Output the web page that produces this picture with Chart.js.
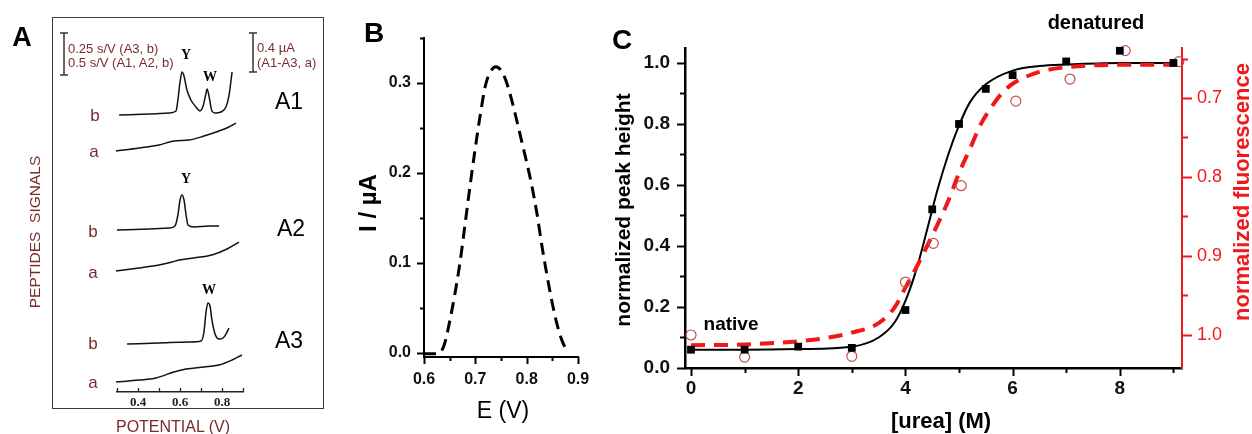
<!DOCTYPE html>
<html><head><meta charset="utf-8">
<script src="https://cdn.jsdelivr.net/npm/chart.js@4.4.0/dist/chart.umd.min.js"></script>
<style>
html,body{margin:0;padding:0;background:#fff;}
#wrap{position:relative;width:1252px;height:434px;overflow:hidden;font-family:"Liberation Sans",Arial,sans-serif;background:#fff;}
canvas{position:absolute;left:0;top:0;}
.t{position:absolute;white-space:nowrap;line-height:1;transform:translate(-50%,-50%);z-index:5;}
.rot{transform:translate(-50%,-50%) rotate(-90deg);}
.br{color:#7b2a2a;}
.b{font-weight:bold;}
.serif{font-family:"Liberation Serif","Times New Roman",serif;font-weight:bold;}
#boxA{position:absolute;left:52px;top:17px;width:270px;height:390px;border:1.5px solid #3a3a3a;}
svg{position:absolute;left:0;top:0;z-index:4;}
</style></head>
<body><div id="wrap">
<div id="boxA"></div>
<canvas id="cA" width="1252" height="434"></canvas>
<canvas id="cB" width="1252" height="434"></canvas>
<canvas id="cC" width="1252" height="434"></canvas>
<svg width="1252" height="434">
  <g stroke="#333" stroke-width="1.5" fill="none">
    <line x1="64" y1="33" x2="64" y2="75"/><line x1="60" y1="33" x2="68" y2="33"/><line x1="60" y1="75" x2="68" y2="75"/>
    <line x1="253" y1="33" x2="253" y2="72"/><line x1="249" y1="33" x2="257" y2="33"/><line x1="249" y1="72" x2="257" y2="72"/>
  </g>
</svg>
<!-- Panel A texts -->
<div class="t b" style="left:22px;top:37px;font-size:27px;">A</div>
<div class="t br" style="left:68px;top:48px;font-size:13px;transform:translate(0,-50%);">0.25 s/V (A3, b)</div>
<div class="t br" style="left:68px;top:62px;font-size:13px;transform:translate(0,-50%);">0.5 s/V (A1, A2, b)</div>
<div class="t br" style="left:257px;top:47px;font-size:13px;transform:translate(0,-50%);">0.4 µA</div>
<div class="t br" style="left:257px;top:62px;font-size:13px;transform:translate(0,-50%);">(A1-A3, a)</div>
<div class="t serif" style="left:186px;top:55px;font-size:14px;">Y</div>
<div class="t serif" style="left:210px;top:77px;font-size:14px;">W</div>
<div class="t serif" style="left:186px;top:179px;font-size:14px;">Y</div>
<div class="t serif" style="left:209px;top:290px;font-size:14px;">W</div>
<div class="t" style="left:289px;top:101px;font-size:23px;">A1</div>
<div class="t" style="left:291px;top:228px;font-size:23px;">A2</div>
<div class="t" style="left:289px;top:340px;font-size:23px;">A3</div>
<div class="t br" style="left:95px;top:115px;font-size:17px;">b</div>
<div class="t br" style="left:94px;top:151px;font-size:17px;">a</div>
<div class="t br" style="left:93px;top:231px;font-size:17px;">b</div>
<div class="t br" style="left:93px;top:272px;font-size:17px;">a</div>
<div class="t br" style="left:93px;top:343px;font-size:17px;">b</div>
<div class="t br" style="left:93px;top:382px;font-size:17px;">a</div>
<div class="t br rot" style="left:35px;top:232px;font-size:15.5px;">PEPTIDES&nbsp; SIGNALS</div>
<div class="t br" style="left:173px;top:427px;font-size:16px;">POTENTIAL (V)</div>
<!-- Panel B texts -->
<div class="t b" style="left:374px;top:33px;font-size:28px;">B</div>
<div class="t b rot" style="left:368px;top:203px;font-size:24px;">I / µA</div>
<div class="t" style="left:503px;top:410px;font-size:23px;">E (V)</div>
<!-- Panel C texts -->
<div class="t b" style="left:622px;top:40px;font-size:28px;">C</div>
<div class="t b rot" style="left:622px;top:210px;font-size:21px;">normalized peak height</div>
<div class="t b rot" style="left:1242px;top:192px;font-size:22px;color:#f01818;">normalized fluorescence</div>
<div class="t b" style="left:941px;top:421px;font-size:22px;">[urea] (M)</div>
<div class="t b" style="left:731px;top:323px;font-size:19px;">native</div>
<div class="t b" style="left:1096px;top:22px;font-size:20px;">denatured</div>
</div>
<script>
// ---------- DATA ----------
// Panel A: stacked voltammetric traces (vertical offset in µA-equivalent units)
const A1b_E = [0.31,0.452,0.548,0.581,0.590,0.600,0.610,0.619,0.633,0.652,0.676,0.695,0.710,0.724,0.729,0.738,0.752,0.767,0.795,0.819,0.833,0.848];
const A1b_I = [2.642,2.651,2.661,2.680,2.785,2.956,3.052,3.014,2.880,2.785,2.718,2.680,2.727,2.851,2.890,2.823,2.680,2.661,2.670,2.718,2.823,3.052];
const A1a_E = [0.295,0.405,0.5,0.571,0.643,0.714,0.786,0.833,0.867];
const A1a_I = [2.298,2.327,2.356,2.394,2.403,2.441,2.489,2.527,2.565];
const A2b_E = [0.3,0.452,0.548,0.576,0.590,0.600,0.610,0.619,0.629,0.638,0.667,0.738,0.786];
const A2b_I = [1.545,1.554,1.564,1.583,1.688,1.831,1.879,1.831,1.688,1.593,1.574,1.583,1.583];
const A2a_E = [0.295,0.405,0.5,0.562,0.595,0.667,0.752,0.824,0.881];
const A2a_I = [1.154,1.183,1.211,1.240,1.259,1.278,1.307,1.364,1.430];
const A3b_E = [0.348,0.5,0.643,0.7,0.714,0.724,0.733,0.743,0.752,0.767,0.786,0.805,0.819,0.833];
const A3b_I = [0.458,0.467,0.477,0.486,0.572,0.763,0.849,0.820,0.687,0.553,0.505,0.515,0.553,0.610];
const A3a_E = [0.295,0.405,0.486,0.571,0.629,0.714,0.786,0.848,0.895];
const A3a_I = [0.095,0.114,0.134,0.191,0.219,0.238,0.257,0.305,0.353];
const A_xTickLabels = [0.4,0.6,0.8];
const A_xTickMarks = [0.3,0.4,0.5,0.6,0.7,0.8,0.9];

// Panel B
const B_E = [0.600,0.615,0.630,0.640,0.650,0.660,0.670,0.680,0.690,0.700,0.710,0.720,0.730,0.740,0.750,0.760,0.770,0.780,0.790,0.800,0.810,0.820,0.830,0.840,0.850,0.860,0.870,0.878];
const B_I = [-0.001,-0.001,0.0,0.010,0.035,0.065,0.100,0.143,0.187,0.228,0.266,0.298,0.313,0.318,0.314,0.302,0.283,0.260,0.236,0.212,0.186,0.155,0.118,0.085,0.055,0.030,0.012,0.003];
const B_xMajor = [0.6,0.7,0.8,0.9], B_xMinor = [0.65,0.75,0.85];
const B_yMajor = [0,0.1,0.2,0.3], B_yMinor = [0.05,0.15,0.25,0.35];

// Panel C
const C_urea = [0,1,2,3,4,4.5,5,5.5,6,7,8,9];
const C_peak = [0.06,0.06,0.07,0.066,0.19,0.52,0.80,0.915,0.96,1.005,1.04,1.0];
const C_fluUrea = [0,1,3,4,4.52,5.04,6.06,7.07,8.1,9.1];
const C_flu = [1.0,1.028,1.027,0.933,0.884,0.811,0.704,0.676,0.64,0.654];
const C_fitX = [0,1,2,3,3.5,3.8,4.0,4.2,4.4,4.6,4.8,5.0,5.2,5.5,6.0,6.5,7,8,9];
const C_fitY = [0.06,0.06,0.062,0.07,0.10,0.15,0.22,0.32,0.45,0.585,0.70,0.795,0.87,0.93,0.975,0.99,0.995,1.0,1.0];
const C_fluFitX = [0,1,2,2.5,3,3.5,3.8,4.0,4.2,4.4,4.6,4.8,5.0,5.2,5.4,5.6,5.8,6.0,6.5,7,8,9.1];
const C_fluFitY = [1.013,1.012,1.008,1.004,0.997,0.985,0.965,0.94,0.915,0.888,0.86,0.83,0.795,0.765,0.734,0.712,0.694,0.682,0.667,0.661,0.658,0.658];
const C_xMajor = [0,2,4,6,8], C_xMinor = [1,3,5,7,9];
const C_yMajor = [0,0.2,0.4,0.6,0.8,1.0], C_yMinor = [0.1,0.3,0.5,0.7,0.9];
const C_y2Major = [0.7,0.8,0.9,1.0], C_y2Minor = [0.65,0.75,0.85,0.95];

// ---------- HELPERS ----------
const SANS = '"Liberation Sans", Arial, sans-serif';
const pts = (xs, ys) => xs.map((x, i) => ({x, y: ys[i]}));
const fix = (size) => (s) => {
  if (s.isHorizontal()) s.height = size; else s.width = size;
  s.paddingLeft = s.paddingRight = s.paddingTop = s.paddingBottom = 0;
};
const setTicks = (vals) => (s) => { s.ticks = vals.map(v => ({value: v})); };
const noGrid = { display: false, drawTicks: false, drawOnChartArea: false };

const tickMarks = {
  id: 'tickMarks',
  afterDraw(chart, args, opts) {
    const ctx = chart.ctx, ca = chart.chartArea;
    (opts.list || []).forEach(t => {
      const s = chart.scales[t.axis];
      ctx.save();
      ctx.strokeStyle = t.color; ctx.lineWidth = t.width; ctx.lineCap = 'butt';
      t.values.forEach(v => {
        const p = Math.round(s.getPixelForValue(v)) + 0.5;
        ctx.beginPath();
        if (s.isHorizontal()) {
          const b = ca.bottom;
          ctx.moveTo(p, b); ctx.lineTo(p, b + t.dir * t.len);
        } else {
          const b = s.position === 'left' ? ca.left : ca.right;
          ctx.moveTo(b, p); ctx.lineTo(b + t.dir * t.len, p);
        }
        ctx.stroke();
      });
      ctx.restore();
    });
  }
};

Chart.defaults.font.family = SANS;
Chart.defaults.animation = false;

const lineDS = (data, extra) => Object.assign({
  data, showLine: true, pointRadius: 0, borderColor: '#111', borderWidth: 1.5,
  fill: false, cubicInterpolationMode: 'monotone', clip: false
}, extra);

// ---------- PANEL A ----------
new Chart(document.getElementById('cA'), {
  type: 'scatter',
  data: { datasets: [
    lineDS(pts(A1b_E, A1b_I)), lineDS(pts(A1a_E, A1a_I)),
    lineDS(pts(A2b_E, A2b_I)), lineDS(pts(A2a_E, A2a_I)),
    lineDS(pts(A3b_E, A3b_I)), lineDS(pts(A3a_E, A3a_I))
  ]},
  options: {
    responsive: false, events: [],
    layout: { padding: { left: 117, right: 1009, top: 25, bottom: 22 } },
    plugins: { legend: {display: false}, tooltip: {enabled: false},
      tickMarks: { list: [{axis: 'x', values: A_xTickMarks, len: 4, dir: -1, color: '#222', width: 1.3}] } },
    scales: {
      x: { type: 'linear', min: 0.3, max: 0.9, afterFit: fix(20), afterBuildTicks: setTicks(A_xTickLabels),
        grid: noGrid, border: {display: true, color: '#222', width: 1.5},
        ticks: { padding: 3, color: '#222', font: {family: '"Liberation Serif", "Times New Roman", serif', weight: 'bold', size: 13},
          callback: v => v.toFixed(1) } },
      y: { display: false, min: 0, max: 3.5 }
    }
  },
  plugins: [tickMarks]
});

// ---------- PANEL B ----------
new Chart(document.getElementById('cB'), {
  type: 'scatter',
  data: { datasets: [
    lineDS(pts(B_E, B_I), { borderWidth: 3, borderDash: [12, 7], borderColor: '#000' })
  ]},
  options: {
    responsive: false, events: [],
    layout: { padding: { left: 364, right: 674, top: 38, bottom: 37 } },
    plugins: { legend: {display: false}, tooltip: {enabled: false},
      tickMarks: { list: [
        {axis: 'x', values: B_xMajor, len: 7, dir: 1, color: '#000', width: 2},
        {axis: 'x', values: B_xMinor, len: 4, dir: 1, color: '#000', width: 2},
        {axis: 'y', values: B_yMajor, len: 7, dir: -1, color: '#000', width: 2},
        {axis: 'y', values: B_yMinor, len: 4, dir: -1, color: '#000', width: 2}
      ] } },
    scales: {
      x: { type: 'linear', min: 0.6, max: 0.9, afterFit: fix(40), afterBuildTicks: setTicks(B_xMajor),
        grid: noGrid, border: {display: true, color: '#000', width: 2},
        ticks: { padding: 13, color: '#111', font: {family: SANS, weight: 'bold', size: 16}, callback: v => v.toFixed(1) } },
      y: { type: 'linear', min: -0.0045, max: 0.35, afterFit: fix(60), afterBuildTicks: setTicks(B_yMajor),
        grid: noGrid, border: {display: true, color: '#000', width: 2},
        ticks: { padding: 13, color: '#111', font: {family: SANS, weight: 'bold', size: 16}, callback: v => v.toFixed(1) } }
    }
  },
  plugins: [tickMarks]
});

// ---------- PANEL C ----------
new Chart(document.getElementById('cC'), {
  type: 'scatter',
  data: { datasets: [
    { data: pts(C_urea, C_peak), yAxisID: 'y', pointStyle: 'rect', pointRadius: 5.5,
      backgroundColor: '#000', borderColor: '#000', borderWidth: 0, showLine: false, order: 0, clip: false },
    { data: pts(C_fluUrea, C_flu), yAxisID: 'y2', pointStyle: 'circle', pointRadius: 5,
      backgroundColor: 'rgba(255,255,255,0)', borderColor: '#c0504d', borderWidth: 1.2, showLine: false, order: 1, clip: false },
    lineDS(pts(C_fluFitX, C_fluFitY), { yAxisID: 'y2', borderColor: '#f01818', borderWidth: 4, borderDash: [14, 9], order: 2 }),
    lineDS(pts(C_fitX, C_fitY), { yAxisID: 'y', borderColor: '#000', borderWidth: 2, order: 3 })
  ]},
  options: {
    responsive: false, events: [],
    layout: { padding: { left: 625, right: 20, top: 48, bottom: 26 } },
    plugins: { legend: {display: false}, tooltip: {enabled: false},
      tickMarks: { list: [
        {axis: 'x', values: C_xMajor, len: 8, dir: 1, color: '#000', width: 2},
        {axis: 'x', values: C_xMinor, len: 5, dir: 1, color: '#000', width: 2},
        {axis: 'y', values: C_yMajor, len: 8, dir: -1, color: '#000', width: 2},
        {axis: 'y', values: C_yMinor, len: 5, dir: -1, color: '#000', width: 2},
        {axis: 'y2', values: C_y2Major, len: 10, dir: 1, color: '#f01818', width: 2},
        {axis: 'y2', values: C_y2Minor, len: 6, dir: 1, color: '#f01818', width: 2}
      ] } },
    scales: {
      x: { type: 'linear', min: -0.112, max: 9.16, afterFit: fix(40), afterBuildTicks: setTicks(C_xMajor),
        grid: noGrid, border: {display: true, color: '#000', width: 2.5},
        ticks: { padding: 9, color: '#111', font: {family: SANS, weight: 'bold', size: 19}, callback: v => String(v) } },
      y: { type: 'linear', position: 'left', min: 0, max: 1.049, afterFit: fix(60), afterBuildTicks: setTicks(C_yMajor),
        grid: noGrid, border: {display: true, color: '#000', width: 2.5},
        ticks: { padding: 15, color: '#111', font: {family: SANS, weight: 'bold', size: 19}, callback: v => v.toFixed(1) } },
      y2: { type: 'linear', position: 'right', reverse: true, min: 0.6367, max: 1.0418, afterFit: fix(50), afterBuildTicks: setTicks(C_y2Major),
        grid: noGrid, border: {display: true, color: '#f01818', width: 2},
        ticks: { padding: 15, color: '#f01818', font: {family: SANS, size: 18}, callback: v => v.toFixed(1) } }
    }
  },
  plugins: [tickMarks]
});
</script>
</body></html>
